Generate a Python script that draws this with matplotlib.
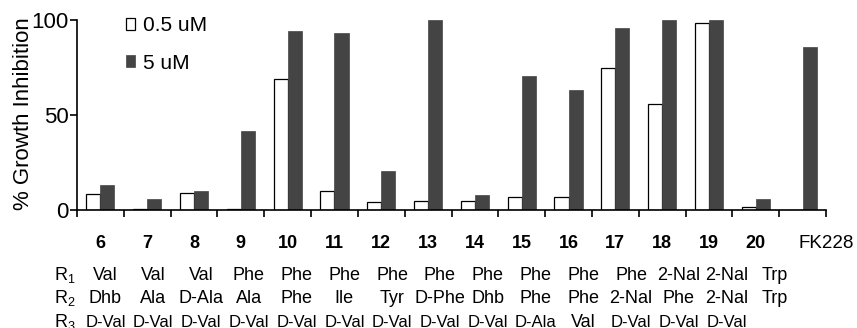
import matplotlib
matplotlib.use("Agg")
import matplotlib.pyplot as plt
import matplotlib.transforms as mtransforms
import numpy as np

plt.rcParams["font.family"] = ["Liberation Sans", "DejaVu Sans"]
plt.rcParams["mathtext.fontset"] = "custom"
plt.rcParams["mathtext.rm"] = "Liberation Sans"
plt.rcParams["mathtext.it"] = "Liberation Sans"

# compounds and growth inhibition (%) at two concentrations
compounds = ["6", "7", "8", "9", "10", "11", "12", "13", "14", "15",
             "16", "17", "18", "19", "20", "FK228"]
inhib_low = [8.2, 0.7, 9.1, 0.7, 69.1, 9.8, 4.0, 4.9, 4.7, 6.7,
             6.7, 74.9, 55.8, 98.4, 1.6, 0.0]
inhib_high = [13.2, 5.8, 10.0, 41.6, 94.2, 93.2, 20.5, 100.0, 7.9, 70.5,
              63.2, 95.8, 100.0, 100.0, 5.8, 85.8]
series_labels = ["0.5 uM", "5 uM"]

# residues at positions R1, R2, R3 for compounds 6-20
r1 = ["Val", "Val", "Val", "Phe", "Phe", "Phe", "Phe", "Phe", "Phe", "Phe",
      "Phe", "Phe", "2-Nal", "2-Nal", "Trp"]
r2 = ["Dhb", "Ala", "D-Ala", "Ala", "Phe", "Ile", "Tyr", "D-Phe", "Dhb", "Phe",
      "Phe", "2-Nal", "Phe", "2-Nal", "Trp"]
r3 = ["D-Val", "D-Val", "D-Val", "D-Val", "D-Val", "D-Val", "D-Val", "D-Val",
      "D-Val", "D-Ala", "Val", "D-Val", "D-Val", "D-Val", ""]

W, H = 857, 328
fig = plt.figure(figsize=(W / 100, H / 100), dpi=100)
ax = fig.add_axes([77 / W, 1 - 210 / H, (826 - 77) / W, 190 / H])

x = np.arange(len(compounds))
bw = 0.3
dark = "#444444"
b1 = ax.bar(x - bw / 2, inhib_low, bw, color="white", edgecolor="black",
            linewidth=0.9, label=series_labels[0], zorder=2)
b2 = ax.bar(x + bw / 2, inhib_high, bw, color=dark, edgecolor=dark,
            linewidth=0.5, label=series_labels[1], zorder=2)

ax.set_xlim(-0.5, len(compounds) - 0.5)
ax.set_ylim(0, 100)
ax.set_yticks([0, 50, 100])
ax.set_xticks(np.arange(-0.5, len(compounds), 1.0))
ax.set_xticklabels([])
for s in ["top", "right"]:
    ax.spines[s].set_visible(False)
for s in ["left", "bottom"]:
    ax.spines[s].set_linewidth(1.2)
ax.tick_params(axis="both", direction="out", length=5, width=1.2,
               labelsize=16, pad=1)
ax.set_ylabel("% Growth Inhibition", fontsize=16)
ax.yaxis.set_label_coords(34 / W, 1 - 114 / H, transform=fig.transFigure)

leg = ax.legend(handles=[b1, b2], loc="upper left", frameon=False,
                bbox_to_anchor=(126 / W, 1 - 16 / H),
                bbox_transform=fig.transFigure, fontsize=15,
                handlelength=0.45, handleheight=0.5, handletextpad=0.35,
                labelspacing=0.9, borderpad=0, borderaxespad=0)

# compound numbers under each group
trans = mtransforms.blended_transform_factory(ax.transData, fig.transFigure)
for i, c in enumerate(compounds):
    if c == "FK228":
        ax.text(i + 0.5, 1 - 248 / H, c, transform=trans, ha="center",
                va="baseline", fontsize=13.5, clip_on=False)
    else:
        ax.text(i, 1 - 248 / H, c, transform=trans, ha="center",
                va="baseline", fontsize=13, fontweight="bold", clip_on=False)

# residue table
rows = [(r1, 280, r"R$_1$"), (r2, 303, r"R$_2$"), (r3, 327, r"R$_3$")]
for vals, ybase, lab in rows:
    fig.text(54 / W, 1 - ybase / H, lab, ha="left", va="baseline",
             fontsize=13)
    for i, v in enumerate(vals):
        xpos = 0.107 + 1.021 * i
        size = 13 if (vals is not r3 or v == "Val") else 12
        ax.text(xpos, 1 - ybase / H, v, transform=trans, ha="center",
                va="baseline", fontsize=size, clip_on=False)

fig.savefig("out.png", dpi=100)
